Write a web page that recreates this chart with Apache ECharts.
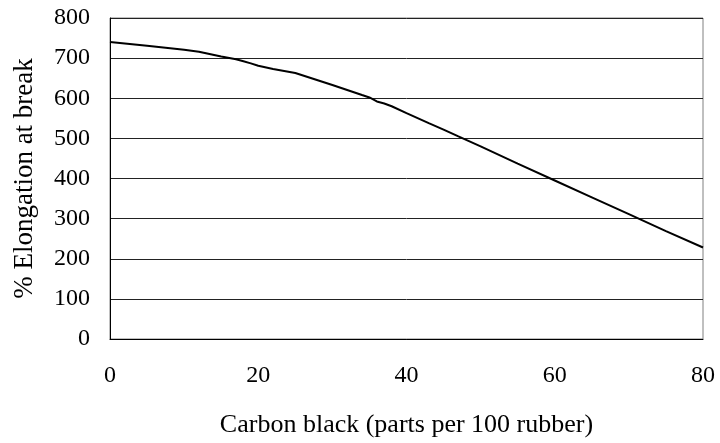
<!DOCTYPE html>
<html>
<head>
<meta charset="utf-8">
<script src="https://cdn.jsdelivr.net/npm/echarts@6/dist/echarts.min.js"></script>
<style>html,body{margin:0;padding:0;background:#fff}#c{width:720px;height:443px}</style>
</head>
<body>
<div id="c"></div>
<script>
const carbonBlack = [0,5,10,12,15,17,18,19,20,22,25,30,34,35,36,37,38,40,43,45,47,50,55,60,65,70,75,80];
const elongation = [740,731,721,716,704,697,692,687,681,673,663,633,608,602,592,587,580,563,538,522,505,480,437,395,353,311,269,228];
const xTicks = [0,20,40,60,80];
const yTicks = [0,100,200,300,400,500,600,700,800];
const xTitle = 'Carbon black (parts per 100 rubber)';
const yTitle = '% Elongation at break';

const font = '"Liberation Serif", "Times New Roman", serif';
const chart = echarts.init(document.getElementById('c'));
chart.setOption({
  animation: false,
  backgroundColor: '#fff',
  grid: { left: 110, right: 17, top: 18, bottom: 104, show: true, borderColor: '#808080', borderWidth: 1 },
  xAxis: {
    type: 'value', min: xTicks[0], max: xTicks[xTicks.length-1], interval: 20,
    name: xTitle, nameLocation: 'middle', nameGap: 73,
    nameTextStyle: { fontFamily: font, fontSize: 26, color: '#000' },
    axisLine: { show: true, lineStyle: { color: '#000', width: 1 } },
    axisTick: { show: false },
    axisLabel: { fontFamily: font, fontSize: 24, color: '#000', margin: 25 },
    splitLine: { show: false }
  },
  yAxis: {
    type: 'value', min: yTicks[0], max: yTicks[yTicks.length-1], interval: 100,
    name: yTitle, nameLocation: 'middle', nameGap: 72, nameRotate: 90,
    nameTextStyle: { fontFamily: font, fontSize: 27, color: '#000' },
    axisLine: { show: true, lineStyle: { color: '#000', width: 1 } },
    axisTick: { show: false },
    axisLabel: { fontFamily: font, fontSize: 24, color: '#000', margin: 20 },
    splitLine: { show: true, lineStyle: { color: '#222', width: 1 } }
  },
  series: [{
    type: 'line',
    data: carbonBlack.map((x, i) => [x, elongation[i]]),
    showSymbol: false,
    lineStyle: { color: '#000', width: 2 },
    smooth: false
  }]
});
</script>
</body>
</html>
